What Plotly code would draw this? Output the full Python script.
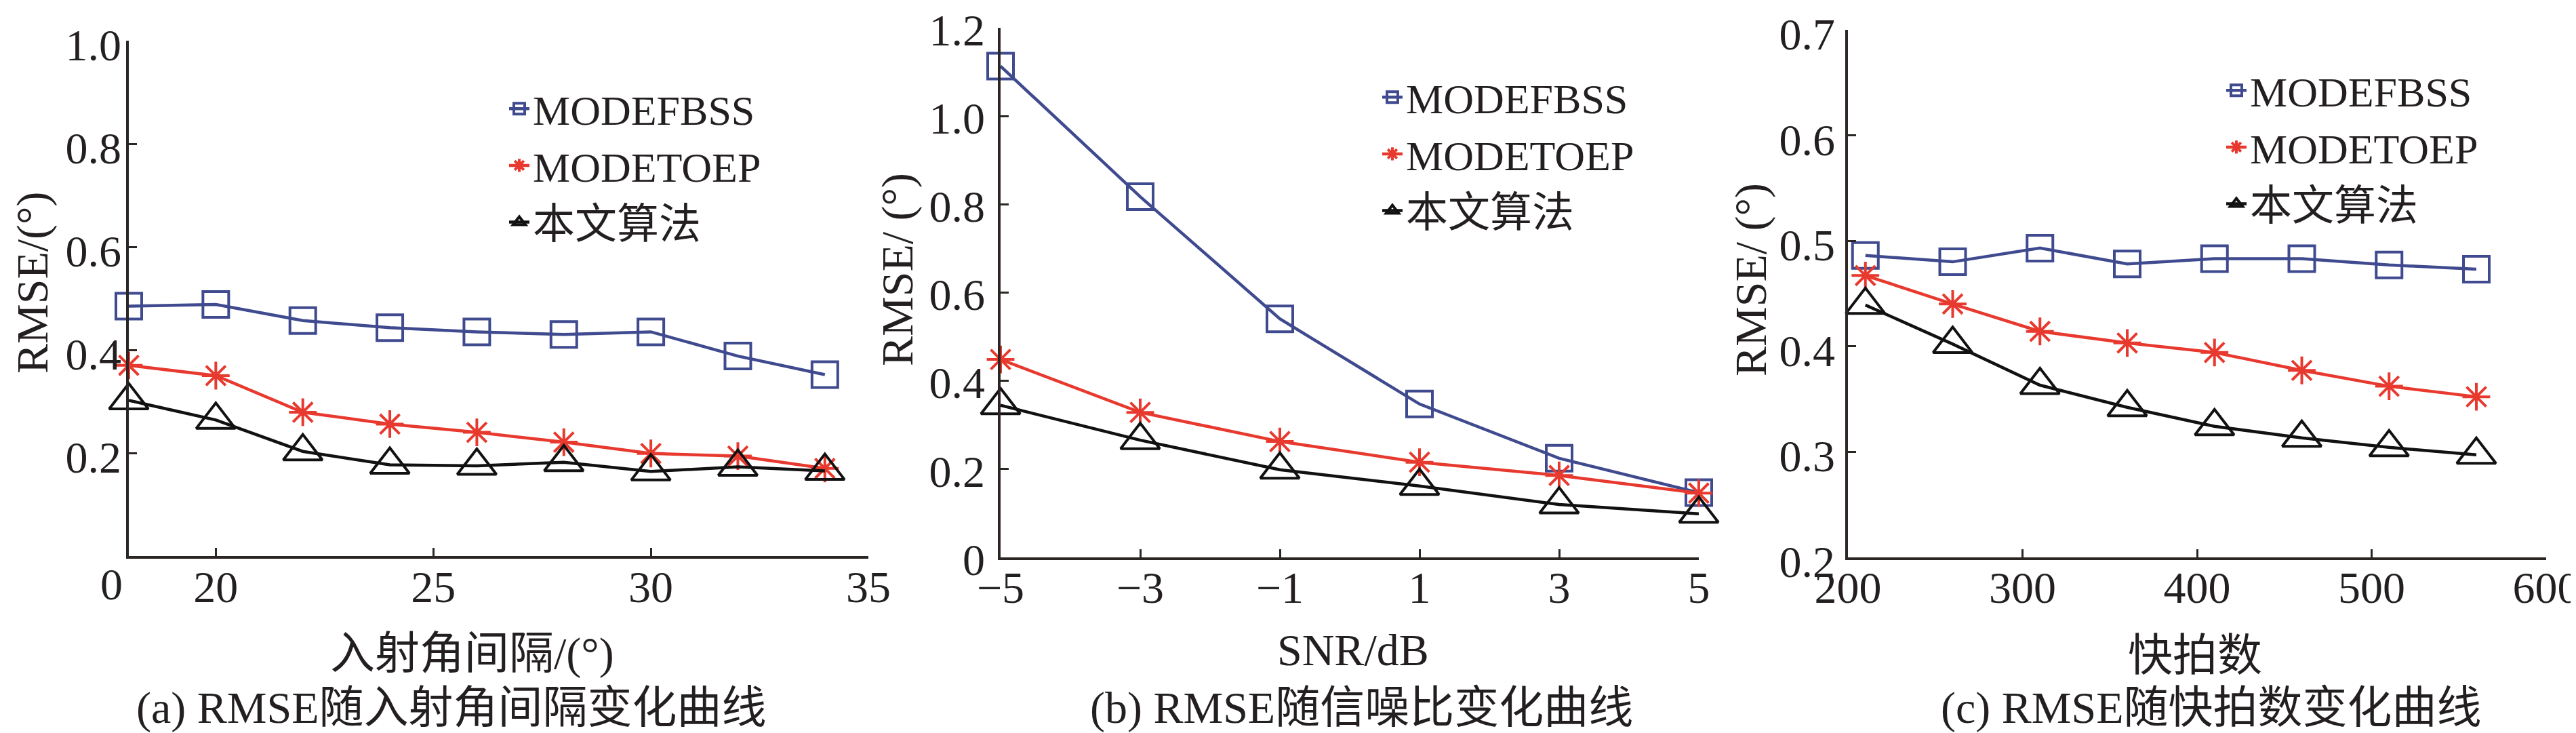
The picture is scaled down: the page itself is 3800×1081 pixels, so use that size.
import plotly.graph_objects as go

# ---------------- data ----------------
series_names = ["MODEFBSS", "MODETOEP", "本文算法"]

# (a) RMSE vs incident angle interval
angle_x = [18, 20, 22, 24, 26, 28, 30, 32, 34]
angle_fbss = [0.485, 0.488, 0.457, 0.443, 0.435, 0.430, 0.435, 0.388, 0.352]
angle_toep = [0.370, 0.350, 0.279, 0.256, 0.240, 0.221, 0.199, 0.194, 0.170]
angle_prop = [0.302, 0.264, 0.203, 0.177, 0.175, 0.182, 0.164, 0.173, 0.165]

# (b) RMSE vs SNR
snr_x = [-5, -3, -1, 1, 3, 5]
snr_fbss = [1.113, 0.817, 0.540, 0.347, 0.224, 0.146]
snr_toep = [0.448, 0.328, 0.262, 0.215, 0.185, 0.145]
snr_prop = [0.344, 0.265, 0.198, 0.161, 0.119, 0.098]

# (c) RMSE vs number of snapshots
snap_x = [210, 260, 310, 360, 410, 460, 510, 560]
snap_fbss = [0.486, 0.480, 0.493, 0.478, 0.483, 0.483, 0.477, 0.473]
snap_toep = [0.467, 0.440, 0.414, 0.403, 0.394, 0.377, 0.362, 0.352]
snap_prop = [0.439, 0.402, 0.363, 0.342, 0.324, 0.313, 0.304, 0.297]

# tick labels
a_xticks = [20, 25, 30, 35]
a_yticks = [0.2, 0.4, 0.6, 0.8, 1.0]
a_yticklabels = ["0.2", "0.4", "0.6", "0.8", "1.0"]
b_xticks = [-5, -3, -1, 1, 3, 5]
b_yticks = [0, 0.2, 0.4, 0.6, 0.8, 1.0, 1.2]
b_yticklabels = ["0", "0.2", "0.4", "0.6", "0.8", "1.0", "1.2"]
c_xticks = [200, 300, 400, 500, 600]
c_yticks = [0.2, 0.3, 0.4, 0.5, 0.6, 0.7]
c_yticklabels = ["0.2", "0.3", "0.4", "0.5", "0.6", "0.7"]

x_titles = ["入射角间隔/(°)", "SNR/dB", "快拍数"]
y_titles = ["RMSE/(°)", "RMSE/ (°)", "RMSE/ (°)"]
captions = ["(a) RMSE随入射角间隔变化曲线", "(b) RMSE随信噪比变化曲线", "(c) RMSE随快拍数变化曲线"]

# ---------------- style ----------------
W, H = 3800, 1081
FONT = "Liberation Serif, Noto Sans CJK SC, serif"
TXT = "#231f20"
AX = "#2b2523"
BLUE = "#3f4a8f"
RED = "#e8392f"
BLACK = "#111111"
FS = 66
LEG_FS = 62

styles = [
    dict(color=BLUE, symbol="square-open", size=38, lw=4),
    dict(color=RED, symbol="asterisk-open", size=34, lw=4),
    dict(color=BLACK, symbol="triangle-up-open", size=50, lw=4),
]

fig = go.Figure()

panels = [
    (angle_x, [angle_fbss, angle_toep, angle_prop], "x", "y", "legend"),
    (snr_x, [snr_fbss, snr_toep, snr_prop], "x2", "y2", "legend2"),
    (snap_x, [snap_fbss, snap_toep, snap_prop], "x3", "y3", "legend3"),
]

for xs, ys_list, xa, ya, leg in panels:
    for name, ys, st in zip(series_names, ys_list, styles):
        fig.add_trace(go.Scatter(
            x=xs, y=ys, name=name, mode="lines+markers",
            xaxis=xa, yaxis=ya, legend=leg,
            line=dict(color=st["color"], width=st["lw"] + 0.5),
            marker=dict(symbol=st["symbol"], size=st["size"],
                        color=st["color"], line=dict(color=st["color"], width=st["lw"])),
            cliponaxis=False,
        ))


def px2x(px):
    return px / W


def px2y(py):
    return 1 - py / H


axis_common = dict(
    showline=True, linecolor=AX, linewidth=3.5,
    ticks="inside", ticklen=12, tickwidth=3, tickcolor=AX,
    showgrid=False, zeroline=False, automargin=False,
    ticklabeloverflow="allow",
    tickfont=dict(family=FONT, size=FS, color=TXT),
    mirror=False,
)
XSTAND = -15

fig.update_layout(
    template="none",
    width=W, height=H, autosize=False,
    margin=dict(l=0, r=0, t=0, b=0, pad=0),
    paper_bgcolor="white", plot_bgcolor="white",
    font=dict(family=FONT, size=FS, color=TXT),
    xaxis=dict(domain=[px2x(182), px2x(1273)], range=[18, 35], tickvals=a_xticks,
               anchor="y", ticklabelstandoff=XSTAND, **axis_common),
    yaxis=dict(domain=[px2y(812), px2y(52)], range=[0, 1.0], tickvals=a_yticks,
               ticktext=a_yticklabels, anchor="x", ticklabelstandoff=-6,
               ticklabelshift=6, **axis_common),
    xaxis2=dict(domain=[px2x(1468), px2x(2498)], range=[-5, 5], tickvals=b_xticks,
                anchor="y2", ticklabelstandoff=XSTAND, **axis_common),
    yaxis2=dict(domain=[px2y(813.5), px2y(33)], range=[0, 1.2], tickvals=b_yticks,
                ticktext=b_yticklabels, anchor="x2", ticklabelstandoff=6,
                ticklabelshift=3, **axis_common),
    xaxis3=dict(domain=[px2x(2718), px2x(3748)], range=[200, 600], tickvals=c_xticks,
                anchor="y3", ticklabelstandoff=XSTAND, **axis_common),
    yaxis3=dict(domain=[px2y(813.5), px2y(36)], range=[0.2, 0.7], tickvals=c_yticks,
                ticktext=c_yticklabels, anchor="x3", ticklabelstandoff=2,
                ticklabelshift=6, **axis_common),
)

leg_common = dict(font=dict(family=FONT, size=LEG_FS, color=TXT),
                  bgcolor="rgba(0,0,0,0)", borderwidth=0,
                  xanchor="left", yanchor="middle", itemsizing="trace")
fig.update_layout(
    legend=dict(x=px2x(783 - 45), y=px2y(236), **leg_common),
    legend2=dict(x=px2x(2071 - 45), y=px2y(219), **leg_common),
    legend3=dict(x=px2x(3321 - 50), y=px2y(209), **leg_common),
)

annots = []
# y-axis titles
for txt, xp, yp in zip(y_titles, [40, 1316, 2575], [409, 390, 405]):
    annots.append(dict(text=txt, x=px2x(xp), y=px2y(yp), xref="paper", yref="paper",
                       textangle=-90, showarrow=False, xanchor="center", yanchor="middle",
                       font=dict(family=FONT, size=FS, color=TXT)))
# x-axis titles
for txt, xp, yp in zip(x_titles, [688, 1988, 3230], [956, 950, 958]):
    annots.append(dict(text=txt, x=px2x(xp), y=px2y(yp), xref="paper", yref="paper",
                       showarrow=False, xanchor="center", yanchor="middle",
                       font=dict(family=FONT, size=FS, color=TXT)))
# captions
for txt, xp in zip(captions, [657, 2000, 3253]):
    annots.append(dict(text=txt, x=px2x(xp), y=px2y(1036), xref="paper", yref="paper",
                       showarrow=False, xanchor="center", yanchor="middle",
                       font=dict(family=FONT, size=FS, color=TXT)))
# stray tick label at the left end of panel (a)
annots.append(dict(text="0", x=px2x(156), y=px2y(853), xref="paper", yref="paper",
                   showarrow=False, xanchor="center", yanchor="middle",
                   font=dict(family=FONT, size=FS, color=TXT)))
fig.update_layout(annotations=annots)

fig.write_html("out.html")
